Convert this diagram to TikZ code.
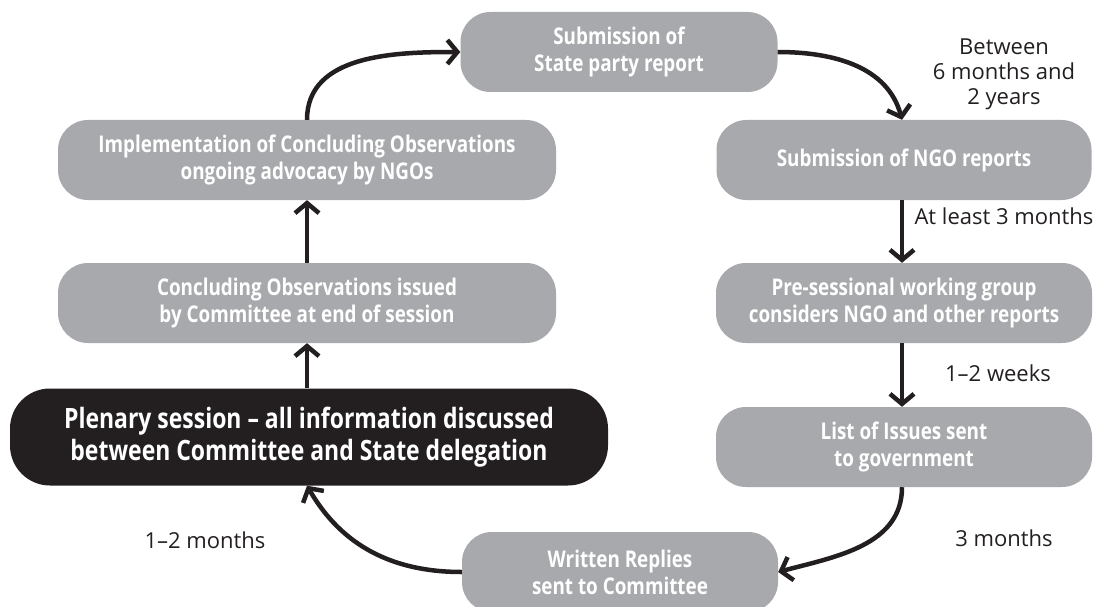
\documentclass[tikz,border=0pt]{standalone}
\usepackage{fontspec}
\setmainfont{Open Sans}
\newfontfamily\boxfont[FakeStretch=0.82]{Open Sans}
\newfontfamily\notefont{Open Sans}
\usepackage{xcolor}
\usetikzlibrary{arrows.meta}
\definecolor{stagegray}{HTML}{A7A9AC}
\definecolor{inkblack}{HTML}{231F20}

\begin{document}
\begin{tikzpicture}[
    x=1pt, y=-1pt,
    stage/.style={rounded corners=30pt, fill=stagegray, text=white, minimum height=80pt, align=center, font=\boxfont\bfseries\fontsize{23}{27}\selectfont},
    flow/.style={-{Straight Barb[length=10pt, width=24pt]}, line width=4.5pt, draw=inkblack},
    note/.style={align=center, text=inkblack, font=\notefont\fontsize{22}{25}\selectfont}
]
    \useasboundingbox (0,0) rectangle (1094,607);

    % Right column
    \node[stage, minimum width=317pt] (state) at (619,52) {Submission of\\State party report};
    \node[stage, minimum width=375pt] (ngo) at (904,160) {Submission of NGO reports};
    \node[stage, minimum width=376pt] (presess) at (904,303) {Pre-sessional working group\\considers NGO and other reports};
    \node[stage, minimum width=376pt] (issues) at (904,447) {List of Issues sent\\to government};
    \node[stage, minimum width=316pt] (replies) at (620,572) {Written Replies\\sent to Committee};

    % Left column
    \node[stage, fill=inkblack, rounded corners=40pt, minimum width=598pt, minimum height=97pt, font=\boxfont\bfseries\fontsize{28}{32}\selectfont] (plenary) at (309,437) {Plenary session – all information discussed\\between Committee and State delegation};
    \node[stage, minimum width=498pt] (concl) at (307,303) {Concluding Observations issued\\by Committee at end of session};
    \node[stage, minimum width=498pt] (impl) at (307,160) {Implementation of Concluding Observations\\ongoing advocacy by NGOs};

    \draw[flow] (impl.north) to[out=90, in=180] (state.west);
    \draw[flow] (state.east) to[out=0, in=105] (ngo.north -| 902,0);
    \draw[flow] (ngo.south -| 902,0) -- (presess.north -| 902,0);
    \draw[flow] (presess.south -| 902,0) -- (issues.north -| 902,0);
    \draw[flow] (issues.south -| 902,0) to[out=-90, in=15] (replies.east);
    \draw[flow] (replies.west) to[out=180, in=-60] (plenary.south -| concl.south);
    \draw[flow] (plenary.north -| concl.south) -- (concl.south);
    \draw[flow] (concl.north) -- (impl.south);

    % Time spans
    \node[note] (span1) at (1004,74) {Between\\6 months and\\2 years};
    \node[note, anchor=west] (span2) at (911,216) {At least 3 months};
    \node[note] (span3) at (998,373) {1–2 weeks};
    \node[note] (span4) at (1004,538) {3 months};
    \node[note] (span5) at (205,540) {1–2 months};
\end{tikzpicture}
\end{document}
